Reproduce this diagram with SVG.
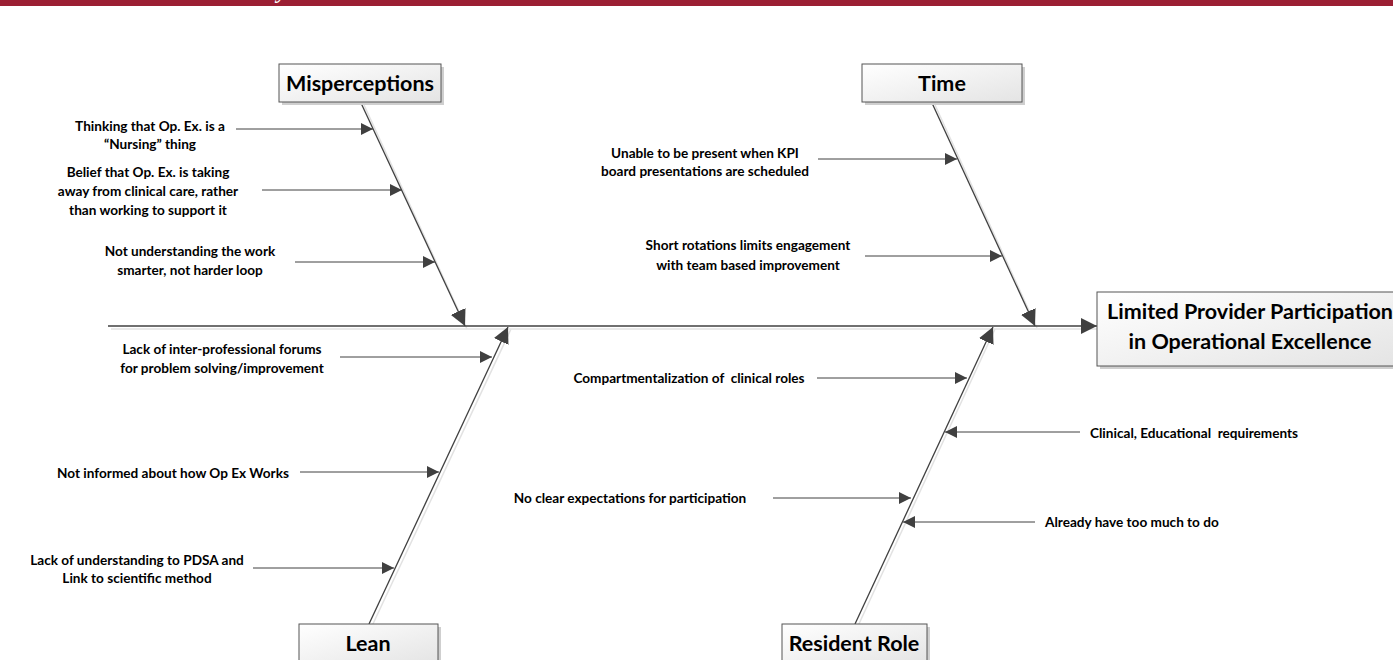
<svg xmlns="http://www.w3.org/2000/svg" width="1393" height="660" viewBox="0 0 1393 660">
<defs>
<linearGradient id="boxg" x1="0" y1="0" x2="1" y2="1">
<stop offset="0" stop-color="#ffffff"/>
<stop offset="1" stop-color="#e4e4e4"/>
</linearGradient>
<marker id="ah" viewBox="0 0 10 10" refX="10" refY="5" markerWidth="12" markerHeight="12" markerUnits="userSpaceOnUse" orient="auto">
<path d="M0,0 L10,5 L0,10 Z" fill="#404040"/>
</marker>
<marker id="ahb" viewBox="0 0 10 10" refX="10" refY="5" markerWidth="16" markerHeight="16" markerUnits="userSpaceOnUse" orient="auto">
<path d="M0,0 L10,5 L0,10 Z" fill="#404040"/>
</marker>
</defs>
<style>
.t{font-family:Lato,"Open Sans","Liberation Sans",sans-serif;font-weight:bold;font-size:13.6px;fill:#000}
.h{font-family:Lato,"Open Sans","Liberation Sans",sans-serif;font-weight:bold;font-size:21.5px;fill:#000;text-anchor:middle}
.c{text-anchor:middle}
.box{fill:url(#boxg);stroke:#555;stroke-width:1}
.sh{fill:#cfcfcf}
.ln{stroke:#404040;stroke-width:1.3;fill:none}
.lns{stroke:#e2e2e2;stroke-width:1.5;fill:none}
.br{stroke:#404040;stroke-width:1;fill:none;marker-end:url(#ah)}
</style>
<rect x="0" y="0" width="1393" height="6" fill="#9b1f33"/>
<text x="277" y="-2" font-family="Liberation Serif,serif" font-style="italic" font-weight="bold" font-size="22" fill="#fff">y</text>

<g id="connectors">
<g id="shadows">
<line class="lns" x1="111" y1="329" x2="1097" y2="329"/>
<line class="lns" x1="364" y1="105" x2="467" y2="329"/>
<line class="lns" x1="935" y1="105" x2="1037" y2="328"/>
<line class="lns" x1="372" y1="626" x2="511" y2="329"/>
<line class="lns" x1="858" y1="626" x2="995" y2="329"/>
</g>
<line class="ln" x1="108" y1="326" x2="1097" y2="326" marker-end="url(#ahb)"/>
<line class="ln" x1="361" y1="103" x2="465" y2="326" marker-end="url(#ahb)"/>
<line class="ln" x1="932" y1="103" x2="1035" y2="326" marker-end="url(#ahb)"/>
<line class="ln" x1="369" y1="624" x2="508" y2="327" marker-end="url(#ahb)"/>
<line class="ln" x1="855" y1="624" x2="993" y2="327" marker-end="url(#ahb)"/>
<line class="br" x1="236" y1="129" x2="373" y2="129"/>
<line class="br" x1="262" y1="190" x2="402" y2="190"/>
<line class="br" x1="295" y1="262" x2="435" y2="262"/>
<line class="br" x1="818" y1="159" x2="957" y2="159"/>
<line class="br" x1="865" y1="256" x2="1002" y2="256"/>
<line class="br" x1="340" y1="357" x2="492" y2="357"/>
<line class="br" x1="300" y1="472" x2="439" y2="472"/>
<line class="br" x1="253" y1="568" x2="394" y2="568"/>
<line class="br" x1="817" y1="378" x2="967" y2="378"/>
<line class="br" x1="1080" y1="432" x2="945" y2="432"/>
<line class="br" x1="773" y1="498" x2="911" y2="498"/>
<line class="br" x1="1035" y1="522" x2="903" y2="522"/>
</g>

<g id="misperceptions">
<rect class="sh" x="282" y="67" width="162" height="38"/>
<rect class="box" x="279" y="64" width="162" height="38"/>
<text class="h" x="360" y="91">Misperceptions</text>
</g>
<g id="time">
<rect class="sh" x="865" y="67" width="160" height="38"/>
<rect class="box" x="862" y="64" width="160" height="38"/>
<text class="h" x="942" y="91">Time</text>
</g>
<g id="lean">
<rect class="sh" x="302" y="627" width="139" height="40"/>
<rect class="box" x="299" y="624" width="139" height="40"/>
<text class="h" x="368" y="651">Lean</text>
</g>
<g id="resident-role">
<rect class="sh" x="785" y="627" width="145" height="40"/>
<rect class="box" x="782" y="624" width="145" height="40"/>
<text class="h" x="854" y="651">Resident Role</text>
</g>
<g id="effect">
<rect class="sh" x="1100" y="295" width="300" height="74"/>
<rect class="box" x="1097" y="292" width="300" height="74"/>
<text class="h" x="1250" y="319">Limited Provider Participation</text>
<text class="h" x="1250" y="349">in Operational Excellence</text>
</g>

<g id="cause-labels">
<text class="t c" x="150" y="131">Thinking that Op. Ex. is a</text>
<text class="t c" x="150" y="149">“Nursing” thing</text>
<text class="t c" x="148" y="177">Belief that Op. Ex. is taking</text>
<text class="t c" x="148" y="196">away from clinical care, rather</text>
<text class="t c" x="148" y="215">than working to support it</text>
<text class="t c" x="190" y="256">Not understanding the work</text>
<text class="t c" x="190" y="275">smarter, not harder loop</text>
<text class="t c" x="705" y="158">Unable to be present when KPI</text>
<text class="t c" x="705" y="176">board presentations are scheduled</text>
<text class="t c" x="748" y="250">Short rotations limits engagement</text>
<text class="t c" x="748" y="270">with team based improvement</text>
<text class="t c" x="222" y="354">Lack of inter-professional forums</text>
<text class="t c" x="222" y="373">for problem solving/improvement</text>
<text class="t c" x="173" y="478">Not informed about how Op Ex Works</text>
<text class="t c" x="137" y="565">Lack of understanding to PDSA and</text>
<text class="t c" x="137" y="583">Link to scientific method</text>
<text class="t c" x="689" y="383" xml:space="preserve">Compartmentalization of  clinical roles</text>
<text class="t" x="1090" y="438" xml:space="preserve">Clinical, Educational  requirements</text>
<text class="t c" x="630" y="503">No clear expectations for participation</text>
<text class="t" x="1045" y="527">Already have too much to do</text>
</g>
</svg>
